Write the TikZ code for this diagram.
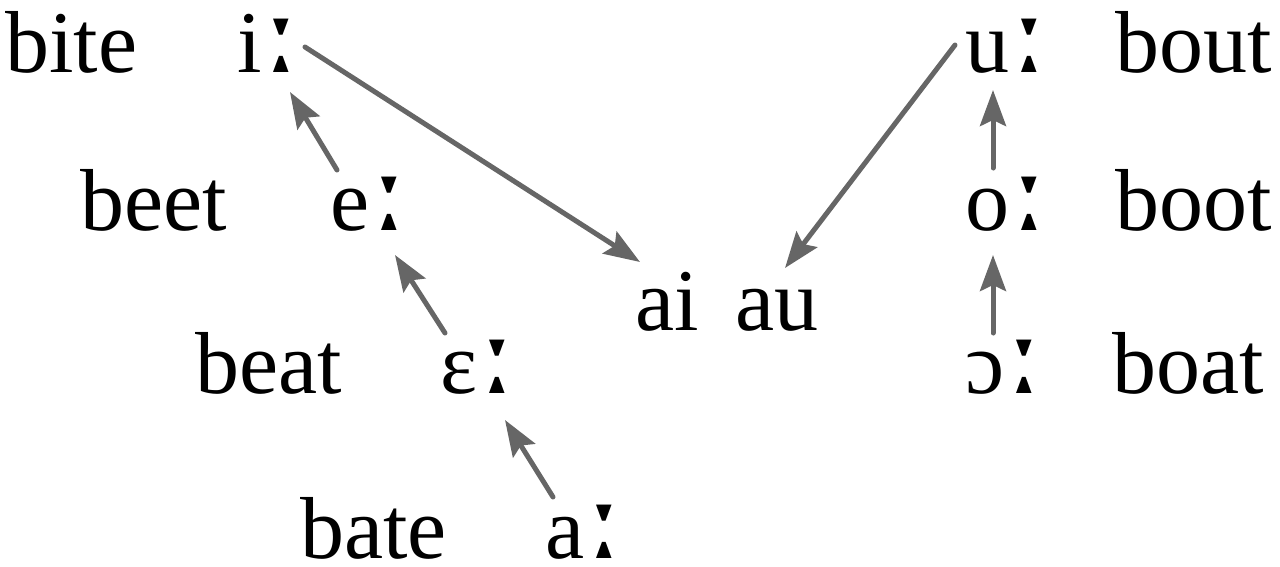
\documentclass[tikz,border=0pt]{standalone}
\usepackage{fontspec}
\usepackage{graphicx}
\setmainfont{Liberation Serif}
\newfontfamily\lenfont{DejaVu Serif}
\newcommand{\len}{\hspace{-1pt}\scalebox{1.4}{\lenfont ː}}
\usetikzlibrary{arrows.meta}
\begin{document}
\begin{tikzpicture}[x=1pt,y=-1pt,
  lbl/.style={anchor=base west,inner sep=0pt,font=\fontsize{88}{100}\selectfont},
  arr/.style={draw=black!60,line width=5pt,line cap=round,-{Stealth[length=36pt,width=26pt,inset=6pt]}}]
\useasboundingbox (0,0) rectangle (1280,566);
\node[lbl] (bite) at (5,72) {bite};
\node[lbl] (iL) at (237,72) {i\len};
\node[lbl] (beet) at (80,230) {beet};
\node[lbl] (eL) at (330,230) {e\len};
\node[lbl] (beat) at (195,393) {beat};
\node[lbl] (EL) at (440,393) {ɛ\len};
\node[lbl] (bate) at (300,558) {bate};
\node[lbl] (aL) at (545,558) {a\len};
\node[lbl] (ai) at (635,330) {ai};
\node[lbl] (au) at (735,330) {au};
\node[lbl] (uL) at (965,72) {u\len};
\node[lbl] (bout) at (1115,72) {bout};
\node[lbl] (oL) at (965,230) {o\len};
\node[lbl] (boot) at (1115,230) {boot};
\node[lbl] (OL) at (965,393) {ɔ\len};
\node[lbl] (boat) at (1112,393) {boat};
\draw[arr] ([shift={(68,-25)}]iL.base west) -- ([shift={(5,-68)}]ai.base west);
\draw[arr] ([shift={(-10,-27)}]uL.base west) -- ([shift={(50,-62)}]au.base west);
\draw[arr] ([shift={(7,-60)}]eL.base west) -- ([shift={(53,20)}]iL.base west);
\draw[arr] ([shift={(5,-60)}]EL.base west) -- ([shift={(65,25)}]eL.base west);
\draw[arr] ([shift={(8,-61)}]aL.base west) -- ([shift={(65,27)}]EL.base west);
\draw[arr] ([shift={(28,-62)}]oL.base west) -- ([shift={(28,18)}]uL.base west);
\draw[arr] ([shift={(28,-60)}]OL.base west) -- ([shift={(28,25)}]oL.base west);
\end{tikzpicture}
\end{document}
